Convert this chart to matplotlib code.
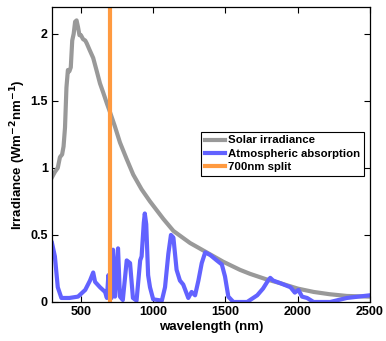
import matplotlib
matplotlib.use("Agg")
import matplotlib.pyplot as plt
from matplotlib.ticker import FixedLocator, FixedFormatter

plt.rcParams['font.family'] = ['Liberation Sans', 'DejaVu Sans']
plt.rcParams['font.weight'] = 'bold'

# Solar irradiance (Wm^-2 nm^-1)
solar_wl = [300, 320, 340, 355, 370, 380, 390, 400, 410, 420, 430, 440, 450, 460,
            470, 480, 490, 500, 515, 530, 540, 560, 585, 610, 632, 655, 680, 700,
            735, 770, 815, 862, 920, 978, 1070, 1140, 1255, 1370, 1485, 1600,
            1670, 1780, 1880, 2000, 2110, 2220, 2340, 2500]
solar_val = [0.93, 0.97, 1.0, 1.08, 1.1, 1.16, 1.3, 1.6, 1.73, 1.72, 1.75, 1.95, 2.0,
             2.09, 2.1, 2.05, 1.99, 1.99, 1.96, 1.95, 1.93, 1.88, 1.82, 1.72, 1.63,
             1.56, 1.48, 1.42, 1.31, 1.19, 1.07, 0.95, 0.84, 0.75, 0.62, 0.53, 0.44,
             0.37, 0.30, 0.24, 0.21, 0.17, 0.14, 0.1, 0.075, 0.058, 0.045, 0.04]

# Atmospheric absorption
abs_wl = [300, 320, 340, 365, 420, 480, 530, 563, 585, 598, 632, 667, 680, 690, 700,
          712, 722, 736, 757, 770, 790, 817, 840, 860, 885, 910, 920, 935, 942, 952,
          965, 978, 1000, 1060, 1082, 1105, 1123, 1140, 1162, 1185, 1208, 1243, 1266,
          1290, 1313, 1336, 1360, 1395, 1440, 1475, 1497, 1520, 1555, 1650, 1720,
          1760, 1795, 1810, 1830, 1880, 1950, 1980, 2005, 2030, 2065, 2110, 2225,
          2340, 2500]
abs_val = [0.44, 0.34, 0.11, 0.03, 0.03, 0.04, 0.09, 0.16, 0.22, 0.15, 0.11, 0.075,
           0.03, 0.2, 0.1, 0.03, 0.39, 0.04, 0.40, 0.04, 0.015, 0.31, 0.29, 0.03,
           0.01, 0.31, 0.34, 0.59, 0.66, 0.58, 0.2, 0.11, 0.02, 0.01, 0.11, 0.36,
           0.50, 0.48, 0.24, 0.16, 0.13, 0.03, 0.075, 0.05, 0.16, 0.29, 0.37, 0.35,
           0.31, 0.28, 0.19, 0.04, 0.0, 0.0, 0.05, 0.1, 0.16, 0.18, 0.16, 0.14, 0.11,
           0.07, 0.09, 0.04, 0.03, 0.0, 0.0, 0.03, 0.05]

split_wl = 700

x_ticks = [500, 1000, 1500, 2000, 2500]
y_ticks = [0, 0.5, 1, 1.5, 2]
y_tick_labels = ['0', '0.5', '1', '1.5', '2']

fig = plt.figure(figsize=(3.86, 3.41), dpi=100)
ax = fig.add_axes([0.1347, 0.1144, 0.8238, 0.8651])

ax.plot(solar_wl, solar_val, color='#999999', lw=3, label='Solar irradiance')
ax.plot(abs_wl, abs_val, color='#6262ff', lw=3, label='Atmospheric absorption')
ax.axvline(split_wl, color='#ff9a40', lw=3, label='700nm split')

ax.set_xlim(300, 2500)
ax.set_ylim(0, 2.2)
ax.xaxis.set_major_locator(FixedLocator(x_ticks))
ax.yaxis.set_major_locator(FixedLocator(y_ticks))
ax.yaxis.set_major_formatter(FixedFormatter(y_tick_labels))
ax.tick_params(direction='in', top=True, right=True, length=4, width=0.8,
               labelsize=9, pad=3)
for lab in ax.get_xticklabels() + ax.get_yticklabels():
    lab.set_fontweight('bold')
for s in ax.spines.values():
    s.set_linewidth(0.9)

ax.set_xlabel('wavelength (nm)', fontsize=9.5, fontweight='bold', labelpad=2)
ax.set_ylabel('Irradiance (Wm$^{\\mathbf{-2}}$nm$^{\\mathbf{-1}}$)', fontsize=9.5,
              fontweight='bold', labelpad=2)

leg = ax.legend(loc='upper left', bbox_to_anchor=(0.469, 0.576), borderaxespad=0,
                handlelength=1.8, handletextpad=0.3, labelspacing=0.3,
                borderpad=0.3, fancybox=False, framealpha=1, edgecolor='black',
                prop={'weight': 'bold', 'size': 8.2})
leg.get_frame().set_linewidth(0.8)

fig.savefig('out.png', dpi=100)
